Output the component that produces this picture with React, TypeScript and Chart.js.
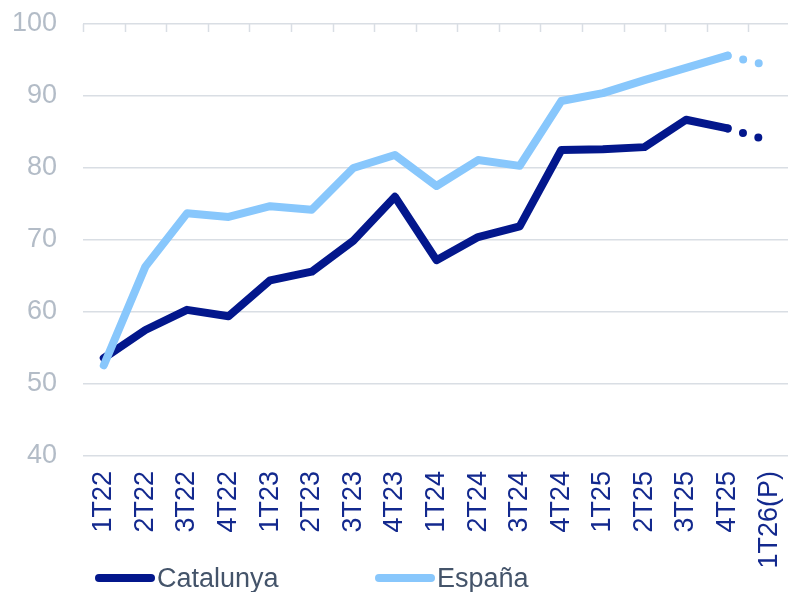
import React, { useEffect, useRef } from "react";
import { Chart, registerables } from "chart.js";

Chart.register(...registerables);

// Quarterly index, 1T22 .. 1T26 (last quarter is a forecast)
const quarters = [
  "1T22", "2T22", "3T22", "4T22",
  "1T23", "2T23", "3T23", "4T23",
  "1T24", "2T24", "3T24", "4T24",
  "1T25", "2T25", "3T25", "4T25",
  "1T26(P)",
];

const catalunya = [
  53.6, 57.5, 60.3, 59.4,
  64.4, 65.6, 69.9, 76.0,
  67.2, 70.4, 71.9, 82.5,
  82.6, 82.9, 86.7, 85.5,
  83.8,
];

const espana = [
  52.6, 66.3, 73.7, 73.2,
  74.7, 74.2, 80.0, 81.8,
  77.5, 81.1, 80.3, 89.3,
  90.4, 92.2, 93.9, 95.6,
  94.2,
];

const yMin = 40;
const yMax = 100;
const yStep = 10;

const NAVY = "#03178C";
const LIGHT = "#88C7FC";
const GRID = "#D9DEE4";
const FONT = "'Liberation Sans', Arial, sans-serif";
const FONT_SIZE = 27;

const forecastIndex = quarters.length - 1;

// small tick marks hanging from the top border at each category boundary
const topTicks = {
  id: "topTicks",
  beforeDatasetsDraw(chart: any) {
    const x = chart.scales.x;
    const top = chart.chartArea.top;
    const half = (x.getPixelForValue(1) - x.getPixelForValue(0)) / 2;
    const ctx = chart.ctx;
    ctx.save();
    ctx.strokeStyle = GRID;
    ctx.lineWidth = 1.5;
    for (let i = 0; i <= quarters.length; i++) {
      const px = Math.round(x.getPixelForValue(i) - half) + 0.5;
      ctx.beginPath();
      ctx.moveTo(px, top);
      ctx.lineTo(px, top + 8);
      ctx.stroke();
    }
    ctx.restore();
  },
};

const noScalePadding = (scale: any) => {
  scale.paddingTop = 0;
  scale.paddingBottom = 0;
  scale.paddingLeft = 0;
  scale.paddingRight = 0;
};

function LegendItem({ color, label, left }: { color: string; label: string; left: number }) {
  return (
    <div
      style={{
        position: "absolute",
        left,
        top: 562,
        height: 32,
        display: "flex",
        alignItems: "center",
        fontFamily: FONT,
        fontSize: FONT_SIZE,
        color: "#44546A",
      }}
    >
      <span
        style={{
          display: "inline-block",
          width: 60,
          height: 8,
          borderRadius: 4,
          background: color,
          marginRight: 2,
        }}
      />
      <span>{label}</span>
    </div>
  );
}

export default function App() {
  const canvasRef = useRef<HTMLCanvasElement | null>(null);

  useEffect(() => {
    if (!canvasRef.current) return;
    const dash = (ctx: any) => (ctx.p1DataIndex === forecastIndex ? [0, 16] : undefined);
    const chart = new Chart(canvasRef.current, {
      type: "line",
      data: {
        labels: quarters,
        datasets: [
          {
            label: "Catalunya",
            data: catalunya,
            borderColor: NAVY,
            backgroundColor: NAVY,
            borderWidth: 8,
            borderCapStyle: "round",
            borderJoinStyle: "round",
            pointRadius: 0,
            pointHoverRadius: 0,
            tension: 0,
            order: 1,
            segment: { borderDash: dash },
          },
          {
            label: "España",
            data: espana,
            borderColor: LIGHT,
            backgroundColor: LIGHT,
            borderWidth: 8,
            borderCapStyle: "round",
            borderJoinStyle: "round",
            pointRadius: 0,
            pointHoverRadius: 0,
            tension: 0,
            order: 0,
            segment: { borderDash: dash },
          },
        ],
      },
      options: {
        animation: false,
        responsive: true,
        maintainAspectRatio: false,
        layout: { padding: { top: 24, left: 0, right: 0, bottom: 0 } },
        plugins: {
          legend: { display: false },
          tooltip: { enabled: false },
        },
        scales: {
          x: {
            offset: true,
            grid: { display: false, drawTicks: false },
            border: { display: false },
            ticks: {
              color: "#13298E",
              font: { family: FONT, size: FONT_SIZE },
              minRotation: 90,
              maxRotation: 90,
              padding: 15,
              autoSkip: false,
            },
            afterFit: (scale: any) => {
              scale.height = 136;
              noScalePadding(scale);
            },
          },
          y: {
            min: yMin,
            max: yMax,
            grid: { color: GRID, lineWidth: 1.5, drawTicks: false },
            border: { display: false },
            ticks: {
              stepSize: yStep,
              color: "#B3BCC7",
              font: { family: FONT, size: FONT_SIZE },
              padding: 26,
            },
            afterFit: (scale: any) => {
              scale.width = 83;
              noScalePadding(scale);
            },
          },
        },
      },
      plugins: [topTicks],
    });
    return () => chart.destroy();
  }, []);

  return (
    <div
      style={{
        position: "fixed",
        left: 0,
        top: 0,
        width: 788,
        height: 592,
        overflow: "hidden",
        background: "#FFFFFF",
      }}
    >
      <div style={{ position: "absolute", left: 0, top: 0, width: 790, height: 592 }}>
        <canvas ref={canvasRef} />
      </div>
      <LegendItem color={NAVY} label="Catalunya" left={95} />
      <LegendItem color={LIGHT} label="España" left={375} />
    </div>
  );
}
